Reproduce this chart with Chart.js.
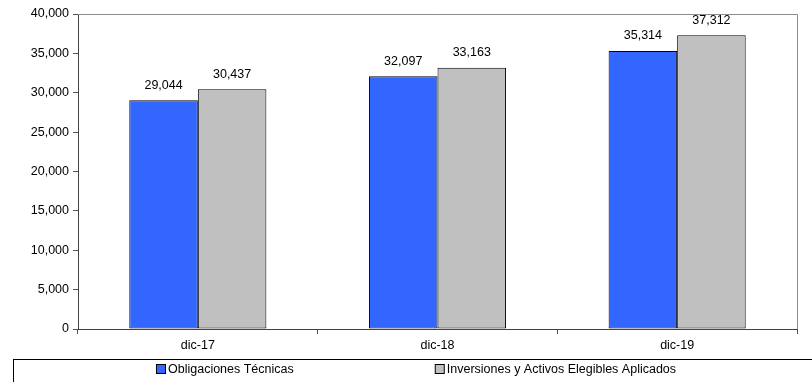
<!DOCTYPE html>
<html>
<head>
<meta charset="utf-8">
<script src="https://cdn.jsdelivr.net/npm/chart.js@4.4.0/dist/chart.umd.min.js"></script>
<style>
  html, body { margin: 0; padding: 0; background: #fff; }
  #wrap { width: 812px; height: 382px; }
</style>
</head>
<body>
<div id="wrap"><canvas id="reservasChart" width="812" height="382"></canvas></div>
<script>
// Data
const categories = ['dic-17', 'dic-18', 'dic-19'];
const obligaciones = [29044, 32097, 35314];
const inversiones = [30437, 33163, 37312];
const seriesNames = ['Obligaciones Técnicas', 'Inversiones y Activos Elegibles Aplicados'];
const yMax = 40000;
const yStep = 5000;

const FONT = "'Liberation Sans', Arial, sans-serif";
const FSIZE = 12.5;
const fmt = v => Number(v).toLocaleString('en-US');

// value labels above each bar
const valueLabels = {
  id: 'valueLabels',
  afterDatasetsDraw(chart) {
    const ctx = chart.ctx;
    ctx.save();
    ctx.font = FSIZE + 'px ' + FONT;
    ctx.fillStyle = '#000';
    ctx.textAlign = 'center';
    ctx.textBaseline = 'middle';
    chart.data.datasets.forEach((ds, i) => {
      chart.getDatasetMeta(i).data.forEach((bar, j) => {
        ctx.fillText(fmt(ds.data[j]), bar.x, bar.y - 15);
      });
    });
    ctx.restore();
  }
};

// gray frame on top / right of the plot + boxed legend at the bottom
const frameAndLegend = {
  id: 'frameAndLegend',
  afterDraw(chart) {
    const ctx = chart.ctx;
    const a = chart.chartArea;
    ctx.save();
    ctx.strokeStyle = '#8c8c8c';
    ctx.lineWidth = 1;
    ctx.beginPath();
    ctx.moveTo(a.left, Math.round(a.top) + 0.5);
    ctx.lineTo(Math.round(a.right) + 0.5, Math.round(a.top) + 0.5);
    ctx.lineTo(Math.round(a.right) + 0.5, a.bottom);
    ctx.stroke();

    // legend box
    ctx.strokeStyle = '#000';
    ctx.strokeRect(13.5, 359.5, 800, 40);

    ctx.font = FSIZE + 'px ' + FONT;
    ctx.textBaseline = 'middle';
    ctx.textAlign = 'left';
    const sq = 9, gapText = 3, spacing = 141;
    const widths = chart.data.datasets.map(ds => sq + gapText + ctx.measureText(ds.label).width);
    const total = widths.reduce((s, w) => s + w, 0) + spacing * (widths.length - 1);
    let x = Math.round(416 - total / 2);
    const cy = 369;
    chart.data.datasets.forEach((ds, i) => {
      ctx.fillStyle = ds.backgroundColor;
      ctx.fillRect(x + 0.5, cy - 4.5, sq, sq);
      ctx.strokeStyle = '#000';
      ctx.strokeRect(x + 0.5, cy - 4.5, sq, sq);
      ctx.fillStyle = '#000';
      ctx.fillText(ds.label, x + sq + gapText, cy + 1);
      x += widths[i] + spacing;
    });
    ctx.restore();
  }
};

new Chart(document.getElementById('reservasChart').getContext('2d'), {
  type: 'bar',
  data: {
    labels: categories,
    datasets: [
      {
        label: seriesNames[0],
        data: obligaciones,
        backgroundColor: '#3366ff',
        borderColor: '#000',
        borderWidth: 1,
        borderSkipped: false,
        categoryPercentage: 0.572,
        barPercentage: 1
      },
      {
        label: seriesNames[1],
        data: inversiones,
        backgroundColor: '#c0c0c0',
        borderColor: '#000',
        borderWidth: 1,
        borderSkipped: false,
        categoryPercentage: 0.572,
        barPercentage: 1
      }
    ]
  },
  options: {
    responsive: false,
    animation: false,
    devicePixelRatio: 1,
    layout: { padding: { left: 0, right: 15, top: 14, bottom: 29 } },
    plugins: {
      legend: { display: false },
      tooltip: { enabled: false }
    },
    scales: {
      x: {
        offset: true,
        grid: { offset: true, drawOnChartArea: false, drawTicks: true, tickLength: 5, color: '#555' },
        border: { color: '#444', width: 1 },
        ticks: { color: '#000', padding: 4, font: { family: FONT, size: FSIZE } },
        afterFit(scale) { scale.height = 24; }
      },
      y: {
        min: 0,
        max: yMax,
        grid: { drawOnChartArea: false, drawTicks: true, tickLength: 5, color: '#555' },
        border: { color: '#444', width: 1 },
        ticks: {
          stepSize: yStep,
          color: '#000',
          padding: 4,
          font: { family: FONT, size: FSIZE },
          callback: v => fmt(v)
        },
        afterFit(scale) { scale.width = 78; }
      }
    }
  },
  plugins: [valueLabels, frameAndLegend]
});
</script>
</body>
</html>
